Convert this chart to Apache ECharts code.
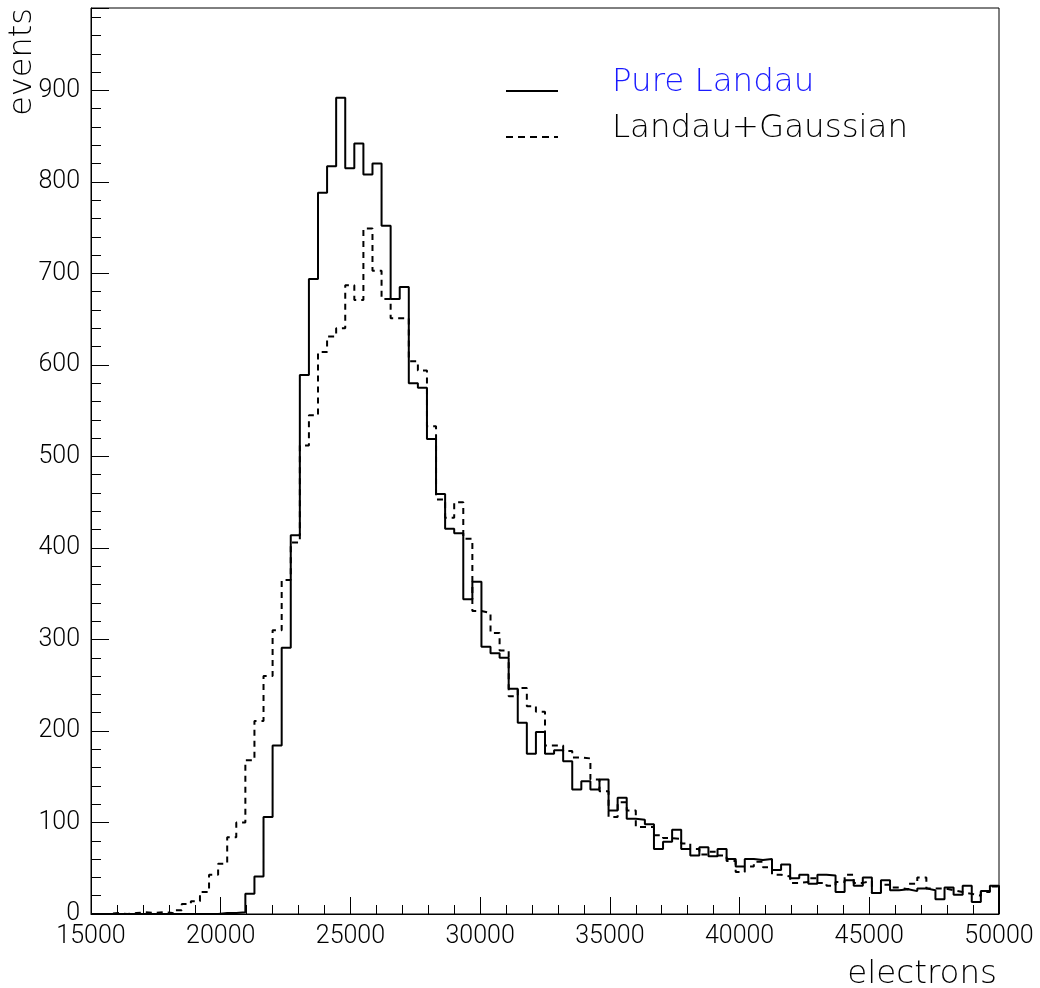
<!DOCTYPE html>
<html><head><meta charset="utf-8">
<script src="https://cdn.jsdelivr.net/npm/echarts@6/dist/echarts.min.js"></script>
<style>html,body{margin:0;padding:0;background:#fff}#c{width:1040px;height:988px}</style>
</head><body><div id="c"></div>
<script>
// ---- data ----
const binLow = 15000;
const binWidth = 350;
const xTickLabels = ['15000', '20000', '25000', '30000', '35000', '40000', '45000', '50000'];
const yTickLabels = ['0', '100', '200', '300', '400', '500', '600', '700', '800', '900'];
const seriesNames = ['Pure Landau', 'Landau+Gaussian'];
const pureLandau = [
  0, 0, 0, 0, 0, 0, 0, 0, 0, 0,
  0, 0, 0, 0, 1, 1, 2, 22, 41, 106,
  184, 291, 414, 589, 694, 788, 817, 892, 815, 842,
  808, 820, 752, 672, 685, 580, 575, 519, 459, 421,
  416, 344, 363, 292, 285, 280, 246, 209, 175, 199,
  175, 179, 167, 136, 145, 136, 147, 113, 127, 104,
  103, 98, 71, 79, 92, 71, 64, 73, 63, 71,
  60, 52, 60, 59, 60, 48, 54, 39, 43, 33,
  43, 42, 24, 37, 31, 40, 23, 37, 26, 27,
  25, 28, 26, 16, 29, 21, 31, 13, 25, 31
];
const landauGauss = [
  0, 0, 1, 0, 1, 2, 1, 2, 1, 4,
  11, 14, 24, 43, 55, 84, 100, 168, 211, 260,
  310, 365, 406, 512, 545, 614, 631, 640, 687, 671,
  749, 703, 672, 651, 651, 604, 594, 533, 453, 433,
  450, 410, 331, 329, 307, 288, 238, 247, 227, 221,
  184, 184, 178, 171, 170, 147, 134, 106, 122, 113,
  95, 95, 86, 83, 82, 77, 71, 65, 68, 64,
  58, 46, 52, 57, 51, 43, 41, 34, 35, 39,
  34, 31, 35, 43, 34, 36, 23, 32, 29, 27,
  33, 40, 28, 28, 26, 24, 22, 20, 24, 30
];

// ---- build histogram outlines (bin edges) ----
function histSteps(vals) {
  const pts = [];
  for (let i = 0; i < vals.length; i++) pts.push([binLow + i * binWidth, vals[i]]);
  const hi = binLow + vals.length * binWidth;
  pts.push([hi, vals[vals.length - 1]]);
  pts.push([hi, 0]);
  return pts;
}

const FONT = 'Roboto';
const TFONT = "'DejaVu Sans'";
const chart = echarts.init(document.getElementById('c'), null, {renderer: 'canvas'});
chart.setOption({
  animation: false,
  backgroundColor: '#fff',
  grid: {left: 91, right: 41, top: 8, bottom: 74, show: true, borderColor: '#000', borderWidth: 1, containLabel: false},
  xAxis: {
    type: 'value', min: 15000, max: 50000, interval: 5000,
    axisLine: {show: true, onZero: false, lineStyle: {color: '#000', width: 1}},
    axisTick: {show: true, inside: true, length: 17, lineStyle: {color: '#000', width: 1}},
    minorTick: {show: true, splitNumber: 5, length: 9, lineStyle: {color: '#000', width: 1}},
    splitLine: {show: false},
    axisLabel: {
      color: '#000', fontFamily: FONT, fontWeight: 300, fontSize: 25, margin: 10,
      formatter: v => xTickLabels[Math.round((v - 15000) / 5000)]
    }
  },
  yAxis: {
    type: 'value', min: 0, max: 990, interval: 100,
    axisLine: {show: true, onZero: false, lineStyle: {color: '#000', width: 1}},
    axisTick: {show: true, inside: true, length: 18, lineStyle: {color: '#000', width: 1}},
    minorTick: {show: true, splitNumber: 5, length: 10, lineStyle: {color: '#000', width: 1}},
    splitLine: {show: false},
    axisLabel: {
      color: '#000', fontFamily: FONT, fontWeight: 300, fontSize: 25, margin: 11,
      padding: [4, 0, 0, 0],
      showMaxLabel: false,
      formatter: v => (v % 100 === 0 && v / 100 < yTickLabels.length) ? yTickLabels[v / 100] : ''
    }
  },
  series: [
    {
      name: seriesNames[0], type: 'line', step: 'end', symbol: 'none', showSymbol: false,
      data: histSteps(pureLandau), clip: true,
      lineStyle: {color: '#000', width: 2, type: 'solid'}
    },
    {
      name: seriesNames[1], type: 'line', step: 'end', symbol: 'none', showSymbol: false,
      data: histSteps(landauGauss), clip: true,
      lineStyle: {color: '#000', width: 2, type: [6, 5]}
    }
  ],
  graphic: [
    {type: 'line', shape: {x1: 506, y1: 91, x2: 558, y2: 91}, style: {stroke: '#000', lineWidth: 2}},
    {type: 'line', shape: {x1: 506, y1: 137, x2: 558, y2: 137}, style: {stroke: '#000', lineWidth: 2, lineDash: [7, 5]}},
    {type: 'text', x: 612, y: 83, style: {text: seriesNames[0], fill: '#1a1aff', font: '200 32.5px ' + TFONT, align: 'left', verticalAlign: 'middle'}},
    {type: 'text', x: 612, y: 129, style: {text: seriesNames[1], fill: '#000', font: '200 32.5px ' + TFONT, align: 'left', verticalAlign: 'middle'}},
    {type: 'text', x: 997, y: 975, style: {text: 'electrons', fill: '#000', font: '200 32.5px ' + TFONT, align: 'right', verticalAlign: 'middle'}},
    {type: 'text', x: 23, y: 8, rotation: Math.PI / 2, style: {text: 'events', fill: '#000', font: '200 32px ' + TFONT, align: 'right', verticalAlign: 'middle'}}
  ]
});
</script>
</body></html>
